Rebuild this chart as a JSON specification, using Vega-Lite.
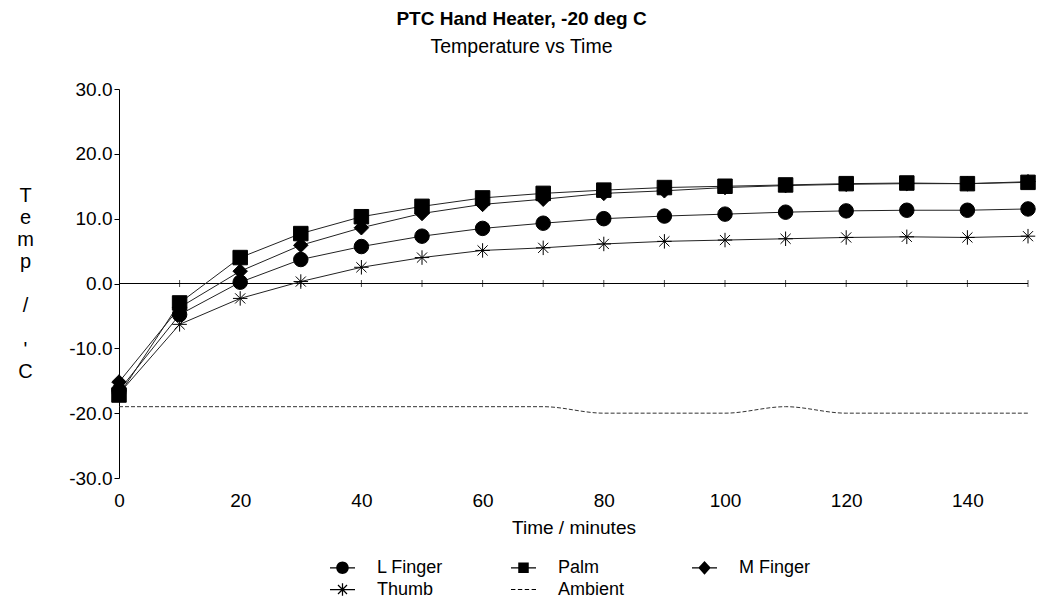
{
  "$schema": "https://vega.github.io/schema/vega-lite/v6.json",
  "autosize": {"type": "none"},
  "padding": {"left": 119, "top": 89, "right": 14, "bottom": 132},
  "width": 909,
  "height": 389,
  "background": "white",
  "config": {
    "view": {"stroke": null},
    "font": "Liberation Sans",
    "axis": {"labelColor": "black", "titleColor": "black", "domainColor": "black", "tickColor": "black", "grid": false, "labelFont": "Liberation Sans", "titleFont": "Liberation Sans"}
  },
  "title": {
    "text": "PTC Hand Heater, -20 deg C",
    "subtitle": "Temperature vs Time",
    "anchor": "middle",
    "frame": "group",
    "dx": -52,
    "offset": 24,
    "font": "Liberation Sans",
    "fontSize": 19,
    "fontWeight": "bold",
    "color": "black",
    "subtitleFont": "Liberation Sans",
    "subtitleFontSize": 19.5,
    "subtitleColor": "black",
    "subtitlePadding": 9
  },
  "datasets": {
    "temps": [
      {"series": "L Finger", "time": 0, "temp": -16.5},
      {"series": "L Finger", "time": 10, "temp": -4.8},
      {"series": "L Finger", "time": 20, "temp": 0.2},
      {"series": "L Finger", "time": 30, "temp": 3.7},
      {"series": "L Finger", "time": 40, "temp": 5.7},
      {"series": "L Finger", "time": 50, "temp": 7.3},
      {"series": "L Finger", "time": 60, "temp": 8.5},
      {"series": "L Finger", "time": 70, "temp": 9.3},
      {"series": "L Finger", "time": 80, "temp": 10.0},
      {"series": "L Finger", "time": 90, "temp": 10.4},
      {"series": "L Finger", "time": 100, "temp": 10.7},
      {"series": "L Finger", "time": 110, "temp": 11.0},
      {"series": "L Finger", "time": 120, "temp": 11.2},
      {"series": "L Finger", "time": 130, "temp": 11.3},
      {"series": "L Finger", "time": 140, "temp": 11.3},
      {"series": "L Finger", "time": 150, "temp": 11.5},
      {"series": "Palm", "time": 0, "temp": -17.2},
      {"series": "Palm", "time": 10, "temp": -3.0},
      {"series": "Palm", "time": 20, "temp": 4.0},
      {"series": "Palm", "time": 30, "temp": 7.7},
      {"series": "Palm", "time": 40, "temp": 10.3},
      {"series": "Palm", "time": 50, "temp": 11.9},
      {"series": "Palm", "time": 60, "temp": 13.2},
      {"series": "Palm", "time": 70, "temp": 13.9},
      {"series": "Palm", "time": 80, "temp": 14.4},
      {"series": "Palm", "time": 90, "temp": 14.8},
      {"series": "Palm", "time": 100, "temp": 15.0},
      {"series": "Palm", "time": 110, "temp": 15.2},
      {"series": "Palm", "time": 120, "temp": 15.4},
      {"series": "Palm", "time": 130, "temp": 15.5},
      {"series": "Palm", "time": 140, "temp": 15.4},
      {"series": "Palm", "time": 150, "temp": 15.6},
      {"series": "M Finger", "time": 0, "temp": -15.2},
      {"series": "M Finger", "time": 10, "temp": -3.7},
      {"series": "M Finger", "time": 20, "temp": 1.9},
      {"series": "M Finger", "time": 30, "temp": 5.9},
      {"series": "M Finger", "time": 40, "temp": 8.6},
      {"series": "M Finger", "time": 50, "temp": 10.8},
      {"series": "M Finger", "time": 60, "temp": 12.2},
      {"series": "M Finger", "time": 70, "temp": 13.0},
      {"series": "M Finger", "time": 80, "temp": 13.9},
      {"series": "M Finger", "time": 90, "temp": 14.3},
      {"series": "M Finger", "time": 100, "temp": 14.8},
      {"series": "M Finger", "time": 110, "temp": 15.1},
      {"series": "M Finger", "time": 120, "temp": 15.3},
      {"series": "M Finger", "time": 130, "temp": 15.4},
      {"series": "M Finger", "time": 140, "temp": 15.4},
      {"series": "M Finger", "time": 150, "temp": 15.7},
      {"series": "Thumb", "time": 0, "temp": -17.0},
      {"series": "Thumb", "time": 10, "temp": -6.3},
      {"series": "Thumb", "time": 20, "temp": -2.3},
      {"series": "Thumb", "time": 30, "temp": 0.3},
      {"series": "Thumb", "time": 40, "temp": 2.5},
      {"series": "Thumb", "time": 50, "temp": 4.0},
      {"series": "Thumb", "time": 60, "temp": 5.1},
      {"series": "Thumb", "time": 70, "temp": 5.5},
      {"series": "Thumb", "time": 80, "temp": 6.1},
      {"series": "Thumb", "time": 90, "temp": 6.5},
      {"series": "Thumb", "time": 100, "temp": 6.7},
      {"series": "Thumb", "time": 110, "temp": 6.9},
      {"series": "Thumb", "time": 120, "temp": 7.1},
      {"series": "Thumb", "time": 130, "temp": 7.2},
      {"series": "Thumb", "time": 140, "temp": 7.1},
      {"series": "Thumb", "time": 150, "temp": 7.3},
      {"series": "Ambient", "time": 0, "temp": -19},
      {"series": "Ambient", "time": 10, "temp": -19},
      {"series": "Ambient", "time": 20, "temp": -19},
      {"series": "Ambient", "time": 30, "temp": -19},
      {"series": "Ambient", "time": 40, "temp": -19},
      {"series": "Ambient", "time": 50, "temp": -19},
      {"series": "Ambient", "time": 60, "temp": -19},
      {"series": "Ambient", "time": 70, "temp": -19},
      {"series": "Ambient", "time": 80, "temp": -20},
      {"series": "Ambient", "time": 90, "temp": -20},
      {"series": "Ambient", "time": 100, "temp": -20},
      {"series": "Ambient", "time": 110, "temp": -19},
      {"series": "Ambient", "time": 120, "temp": -20},
      {"series": "Ambient", "time": 130, "temp": -20},
      {"series": "Ambient", "time": 140, "temp": -20},
      {"series": "Ambient", "time": 150, "temp": -20}
    ]
  },
  "data": {"name": "temps"},
  "encoding": {
    "x": {
      "field": "time", "type": "quantitative",
      "scale": {"domain": [0, 150], "nice": false, "zero": false},
      "axis": {
        "title": "Time / minutes", "values": [0, 20, 40, 60, 80, 100, 120, 140],
        "domain": false, "ticks": false, "labelPadding": 13, "labelFontSize": 19,
        "labelFlush": false, "titleFontSize": 19, "titleFontWeight": "normal", "titlePadding": 8
      }
    },
    "y": {
      "field": "temp", "type": "quantitative",
      "scale": {"domain": [-30, 30], "nice": false, "zero": false},
      "axis": {
        "values": [-30, -20, -10, 0, 10, 20, 30],
        "labelExpr": "replace(format(datum.value, '.1f'), '\u2212', '-')",
        "labelFontSize": 19, "labelPadding": 2, "tickSize": 5, "labelFlush": false,
        "title": ["T", "e", "m", "p", "\u200b", "/", "\u200b", "'", "C"],
        "titleAngle": 0, "titleAlign": "center", "titleBaseline": "top",
        "titleX": -94, "titleY": 96, "titleFontSize": 20, "titleFontWeight": "normal",
        "titleLineHeight": 22
      }
    }
  },
  "layer": [
    {
      "mark": {"type": "rule", "color": "black", "strokeWidth": 1},
      "encoding": {"y": {"datum": 0}, "x": null}
    },
    {
      "transform": [{"filter": "datum.series == 'Ambient' && datum.time > 0"}],
      "mark": {"type": "tick", "orient": "vertical", "size": 7, "thickness": 1, "color": "black"},
      "encoding": {"y": {"datum": 0}}
    },
    {
      "transform": [{"filter": "datum.series == 'Ambient'"}],
      "mark": {"type": "line", "color": "#333", "strokeWidth": 1, "strokeDash": [4, 2], "interpolate": "monotone"},
      "encoding": {}
    },
    {
      "transform": [{"filter": "datum.series != 'Ambient'"}],
      "mark": {"type": "line", "color": "#222", "strokeWidth": 1},
      "encoding": {"detail": {"field": "series"}}
    },
    {
      "transform": [{"filter": "datum.series != 'Ambient'"}],
      "mark": {"type": "point", "filled": true, "color": "black", "strokeWidth": 1, "size": 210, "opacity": 1},
      "encoding": {
        "shape": {
          "field": "series", "type": "nominal",
          "scale": {
            "domain": ["L Finger", "Palm", "M Finger", "Thumb"],
            "range": ["circle", "square", "diamond", "M0,-1V1M-1,0H1M-0.7,-0.7L0.7,0.7M-0.7,0.7L0.7,-0.7"]
          },
          "legend": null
        },
        "stroke": {"value": "black"}
      }
    },
    {
      "mark": {"type": "point", "filled": true, "color": "black", "opacity": 0},
      "encoding": {
        "shape": {
          "field": "series", "type": "nominal",
          "scale": {
            "domain": ["L Finger", "Palm", "M Finger", "Thumb", "Ambient"],
            "range": [
              "M-1,-0.05H1V0.05H-1Z M0.5,0A0.5,0.5 0 1,1 -0.5,0A0.5,0.5 0 1,1 0.5,0Z",
              "M-1,-0.05H1V0.05H-1Z M-0.42,-0.42H0.42V0.42H-0.42Z",
              "M-1,-0.05H1V0.05H-1Z M0,-0.55L0.5,0L0,0.55L-0.5,0Z",
              "M-1,-0.05H1V0.05H-1Z M-0.05,-0.5H0.05V0.5H-0.05Z M-0.325,-0.395L0.395,0.325L0.325,0.395L-0.395,-0.325Z M-0.395,0.325L0.325,-0.395L0.395,-0.325L-0.325,0.395Z",
              "M-1,-0.04H-0.65V0.04H-1Z M-0.45,-0.04H-0.1V0.04H-0.45Z M0.1,-0.04H0.45V0.04H0.1Z M0.65,-0.04H1V0.04H0.65Z"
            ]
          },
          "legend": {
            "orient": "none", "legendX": 211, "legendY": 466,
            "direction": "horizontal", "columns": 3, "gridAlign": "all",
            "columnPadding": 62, "rowPadding": 0, "title": null, "padding": 0,
            "symbolSize": 625, "symbolFillColor": "black", "symbolStrokeColor": "black",
            "symbolStrokeWidth": 0, "symbolOpacity": 1,
            "labelFont": "Liberation Sans", "labelFontSize": 18, "labelColor": "black",
            "labelOffset": 22
          }
        }
      }
    }
  ],
  "resolve": {"scale": {"shape": "independent"}, "legend": {"shape": "independent"}}
}
